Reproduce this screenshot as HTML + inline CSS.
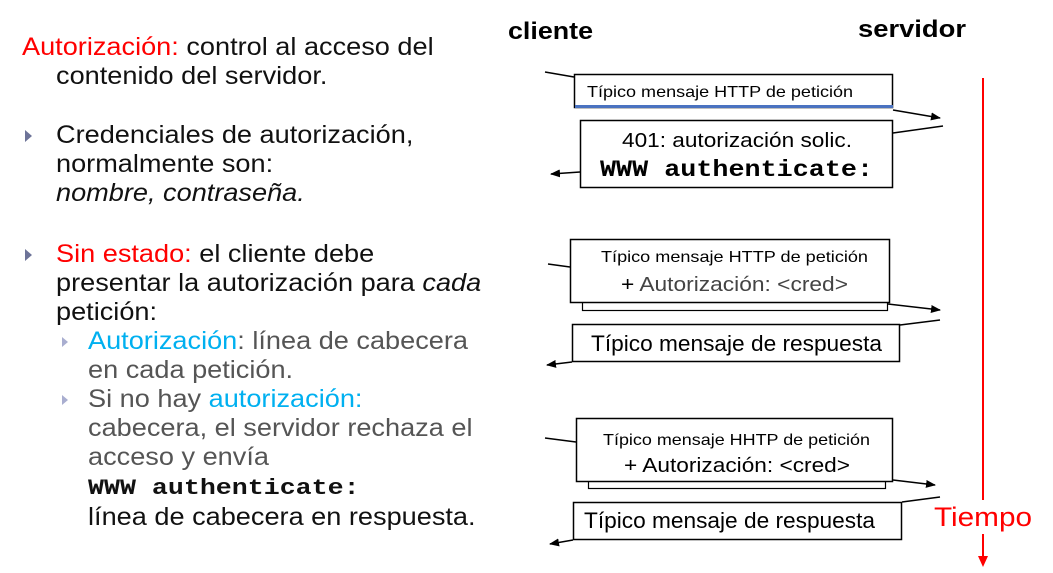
<!DOCTYPE html>
<html><head><meta charset="utf-8"><style>
body{margin:0;background:#fff;}
.w{position:relative;width:1053px;height:573px;overflow:hidden;font-family:"Liberation Sans",sans-serif;}
.l{position:absolute;font-size:25px;line-height:29px;white-space:nowrap;color:#111;transform:scaleX(1.085);transform-origin:0 0;}
.r{color:#f00}.b{color:#00b0f0}.g{color:#555}
.bul{position:absolute;width:0;height:0;border-top:6px solid transparent;border-bottom:6px solid transparent;border-left:7px solid #6d7398;}
.sb{position:absolute;width:0;height:0;border-top:5px solid transparent;border-bottom:5px solid transparent;border-left:6px solid #a9aed0;}
.mono{font-family:"Liberation Mono",monospace;font-weight:bold;}
</style></head><body><div class="w">
<div class="l" style="left:22px;top:33px"><span class="r">Autorización:</span> control al acceso del</div>
<div class="l" style="left:56px;top:62px">contenido del servidor.</div>
<div class="bul" style="left:25px;top:130px"></div>
<div class="l" style="left:56px;top:121px">Credenciales de autorización,</div>
<div class="l" style="left:56px;top:150px">normalmente son:</div>
<div class="l" style="left:56px;top:179px"><i>nombre, contraseña.</i></div>
<div class="bul" style="left:25px;top:249px"></div>
<div class="l" style="left:56px;top:240px"><span class="r">Sin estado:</span> el cliente debe</div>
<div class="l" style="left:56px;top:269px">presentar la autorización para <i>cada</i></div>
<div class="l" style="left:56px;top:298px">petición:</div>
<div class="sb" style="left:62px;top:337px"></div>
<div class="l" style="left:88px;top:327px"><span class="b">Autorización</span><span class="g">: línea de cabecera</span></div>
<div class="l g" style="left:88px;top:356px">en cada petición.</div>
<div class="sb" style="left:62px;top:395px"></div>
<div class="l" style="left:88px;top:385px"><span class="g">Si no hay </span><span class="b">autorización:</span></div>
<div class="l g" style="left:88px;top:414px">cabecera, el servidor rechaza el</div>
<div class="l g" style="left:88px;top:443px">acceso y envía</div>
<div class="l mono" style="left:88px;top:474px;font-size:22px;transform:scaleX(1.21)">WWW authenticate:</div>
<div class="l" style="left:88px;top:503px">línea de cabecera en respuesta.</div>

<svg width="1053" height="573" style="position:absolute;left:0;top:0" font-family="Liberation Sans, sans-serif">
<defs><marker id="a" markerWidth="10" markerHeight="8" refX="9" refY="4" orient="auto" markerUnits="userSpaceOnUse"><path d="M0,0L10,4L0,8z" fill="#000"/></marker></defs>
<text x="508" y="39" font-size="24" font-weight="bold" textLength="85" lengthAdjust="spacingAndGlyphs">cliente</text>
<text x="858" y="37" font-size="24" font-weight="bold" textLength="108" lengthAdjust="spacingAndGlyphs">servidor</text>
<line x1="983" y1="78" x2="983" y2="558" stroke="#f00" stroke-width="2"/>
<polygon points="978,556 988,556 983,567" fill="#f00"/>
<rect x="932" y="500" width="102" height="34" fill="#fff"/>
<text x="934" y="526" font-size="27" fill="#f00" textLength="98" lengthAdjust="spacingAndGlyphs">Tiempo</text>
<g stroke="#000" stroke-width="1.5" fill="none">
<line x1="545" y1="72" x2="574" y2="77"/>
<line x1="893" y1="110" x2="940" y2="118" marker-end="url(#a)"/>
<line x1="893" y1="133" x2="943" y2="126"/>
<line x1="580" y1="172" x2="551" y2="174" marker-end="url(#a)"/>
<line x1="548" y1="264" x2="570" y2="267"/>
<line x1="888" y1="304" x2="940" y2="310" marker-end="url(#a)"/>
<line x1="900" y1="325" x2="940" y2="320"/>
<line x1="572" y1="362" x2="547" y2="365" marker-end="url(#a)"/>
<line x1="545" y1="438" x2="576" y2="442"/>
<line x1="893" y1="480" x2="935" y2="485" marker-end="url(#a)"/>
<line x1="902" y1="502" x2="940" y2="497"/>
<line x1="573" y1="540" x2="550" y2="544" marker-end="url(#a)"/>
</g>
<rect x="574.5" y="74.5" width="318" height="33" fill="#fff" stroke="#000" stroke-width="1.5"/>
<rect x="575" y="105" width="318" height="3" fill="#4a72c0"/>
<text x="587" y="97" font-size="16" textLength="266" lengthAdjust="spacingAndGlyphs">Típico mensaje HTTP de petición</text>
<rect x="580.5" y="120.5" width="312" height="67" fill="#fff" stroke="#000" stroke-width="1.5"/>
<text x="622" y="147" font-size="20" textLength="230" lengthAdjust="spacingAndGlyphs">401: autorización solic.</text>
<text x="600" y="176" font-size="23" font-weight="bold" font-family="Liberation Mono, monospace" textLength="273" lengthAdjust="spacingAndGlyphs">WWW authenticate:</text>
<rect x="582.5" y="300.5" width="305" height="10" fill="#fff" stroke="#000" stroke-width="1.2"/>
<rect x="570.5" y="239.5" width="319" height="63" fill="#fff" stroke="#000" stroke-width="1.5"/>
<text x="601" y="262" font-size="16" textLength="267" lengthAdjust="spacingAndGlyphs">Típico mensaje HTTP de petición</text>
<text x="621" y="291" font-size="20" fill="#444" textLength="227" lengthAdjust="spacingAndGlyphs"><tspan fill="#000">+</tspan> Autorización: &lt;cred&gt;</text>
<rect x="572.5" y="324.5" width="327" height="37" fill="#fff" stroke="#000" stroke-width="1.5"/>
<text x="591" y="351" font-size="22" textLength="291" lengthAdjust="spacingAndGlyphs">Típico mensaje de respuesta</text>
<rect x="588.5" y="479.5" width="297" height="9" fill="#fff" stroke="#000" stroke-width="1.2"/>
<rect x="576.5" y="418.5" width="316" height="63" fill="#fff" stroke="#000" stroke-width="1.5"/>
<text x="603" y="445" font-size="16" textLength="267" lengthAdjust="spacingAndGlyphs">Típico mensaje HHTP de petición</text>
<text x="624" y="472" font-size="20" textLength="226" lengthAdjust="spacingAndGlyphs">+ Autorización: &lt;cred&gt;</text>
<rect x="573.5" y="502.5" width="328" height="37" fill="#fff" stroke="#000" stroke-width="1.5"/>
<text x="584" y="528" font-size="22" textLength="291" lengthAdjust="spacingAndGlyphs">Típico mensaje de respuesta</text>
</svg>
</div></body></html>
